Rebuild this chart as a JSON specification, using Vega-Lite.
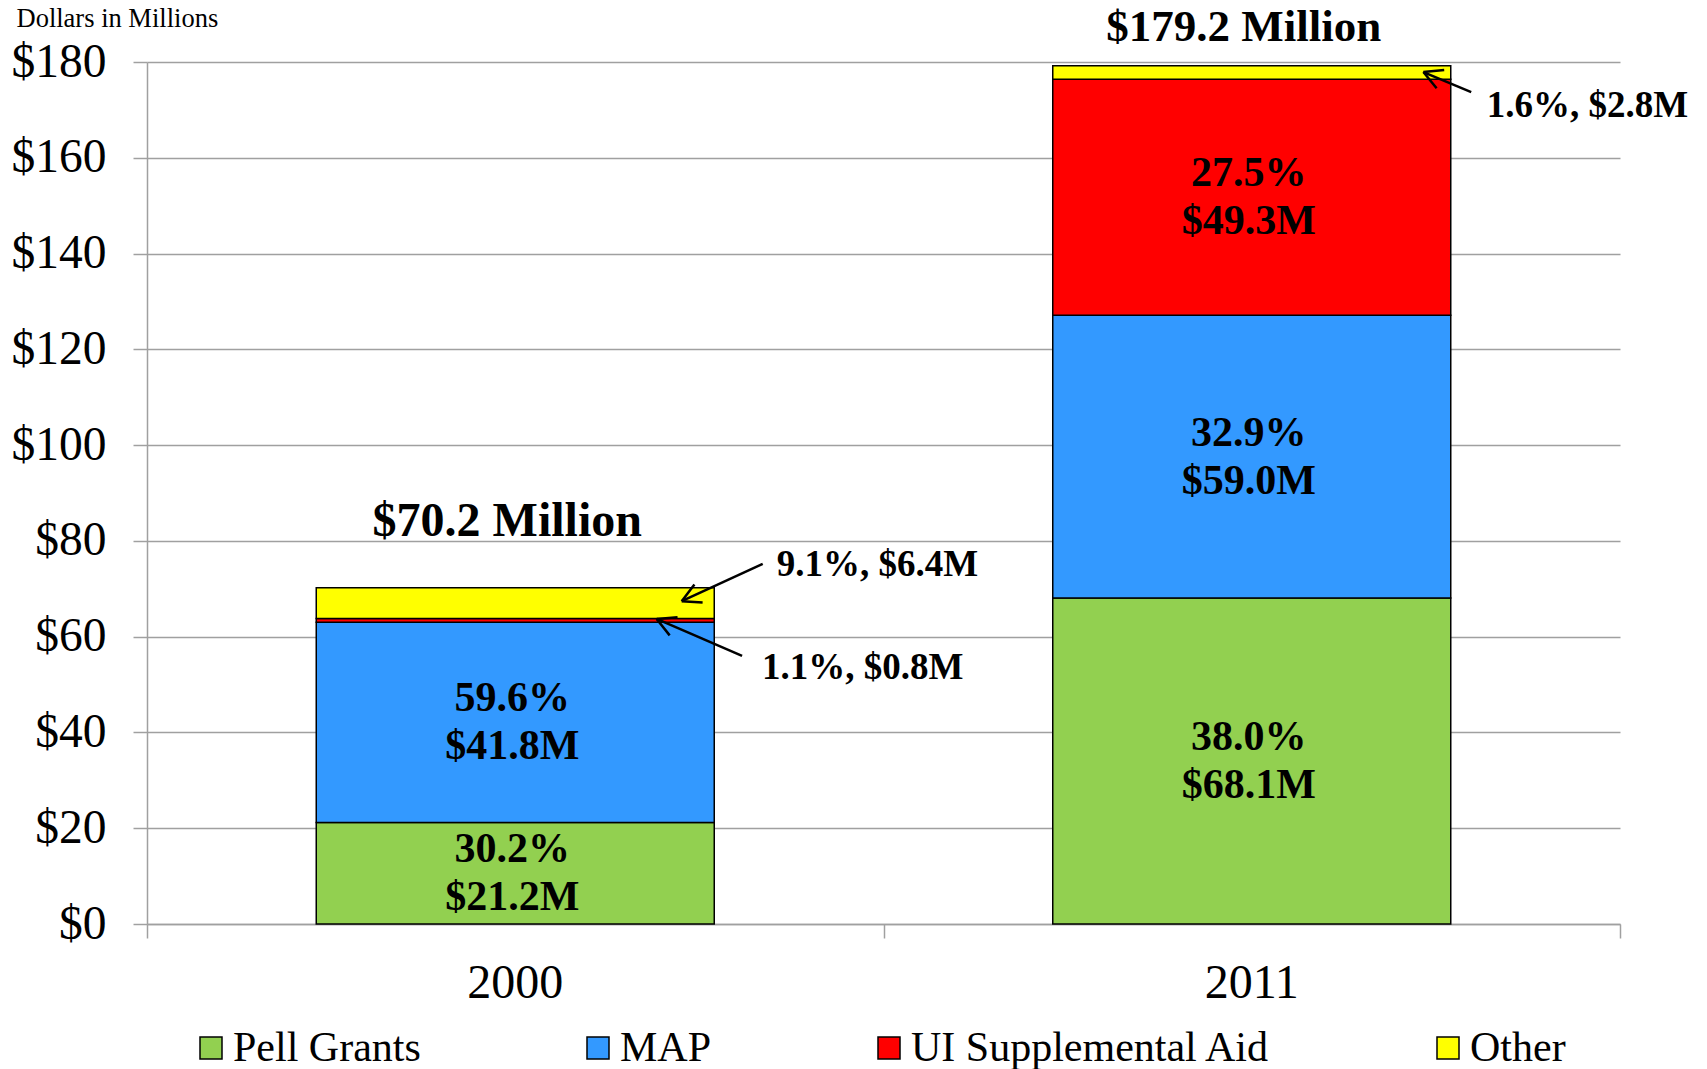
{
  "$schema": "https://vega.github.io/schema/vega-lite/v6.json",
  "width": 1473,
  "height": 862,
  "autosize": {"type": "none"},
  "padding": {"left": 147, "top": 62, "right": 87, "bottom": 145},
  "background": "white",
  "config": {"view": {"stroke": null}, "font": "Liberation Serif"},
  "datasets": {
    "funding": [
      {"year": "2000", "source": "Pell Grants", "amount": 21.2, "pct": 30.2, "rank": 1},
      {"year": "2000", "source": "MAP", "amount": 41.8, "pct": 59.6, "rank": 2},
      {"year": "2000", "source": "UI Supplemental Aid", "amount": 0.8, "pct": 1.1, "rank": 3},
      {"year": "2000", "source": "Other", "amount": 6.4, "pct": 9.1, "rank": 4},
      {"year": "2011", "source": "Pell Grants", "amount": 68.1, "pct": 38.0, "rank": 1},
      {"year": "2011", "source": "MAP", "amount": 59.0, "pct": 32.9, "rank": 2},
      {"year": "2011", "source": "UI Supplemental Aid", "amount": 49.3, "pct": 27.5, "rank": 3},
      {"year": "2011", "source": "Other", "amount": 2.8, "pct": 1.6, "rank": 4}
    ],
    "callouts": [
      {"label": "9.1%, $6.4M", "tx": 0.855, "ty": 72.7, "x0": 0.836, "y0": 75.2, "x1": 0.726, "y1": 67.4, "angle": 155.5},
      {"label": "1.1%, $0.8M", "tx": 0.835, "ty": 51.2, "x0": 0.808, "y0": 56.0, "x1": 0.692, "y1": 63.7, "angle": 203.5},
      {"label": "1.6%, $2.8M", "tx": 1.819, "ty": 168.5, "x0": 1.798, "y0": 173.7, "x1": 1.733, "y1": 177.9, "angle": 202.6}
    ]
  },
  "resolve": {"scale": {"x": "independent"}, "axis": {"x": "independent"}},
  "layer": [
    {
      "data": {"name": "funding"},
      "transform": [
        {"stack": "amount", "groupby": ["year"], "sort": [{"field": "rank", "order": "ascending"}], "as": ["s0", "s1"]}
      ],
      "mark": {"type": "bar", "size": 398, "stroke": "black", "strokeWidth": 1.5},
      "encoding": {
        "x": {
          "field": "year", "type": "nominal",
          "scale": {"domain": ["2000", "2011"], "paddingInner": 0, "paddingOuter": 0},
          "axis": {
            "orient": "bottom", "title": null, "labelAngle": 0, "ticks": false, "tickSize": 0,
            "domain": true, "domainColor": "#a0a0a0", "domainWidth": 1.5, "grid": false,
            "labelFont": "Liberation Serif", "labelFontSize": 48, "labelColor": "black", "labelPadding": 35
          }
        },
        "y": {
          "field": "s0", "type": "quantitative",
          "scale": {"domain": [0, 180], "nice": false, "zero": true},
          "title": "Dollars in Millions",
          "axis": {
            "values": [0, 20, 40, 60, 80, 100, 120, 140, 160, 180], "format": "$.0f",
            "grid": true, "gridColor": "#a0a0a0", "gridWidth": 1.5,
            "tickColor": "#a0a0a0", "tickSize": 14, "tickWidth": 1.5,
            "domainColor": "#a0a0a0", "domainWidth": 1.5,
            "labelFont": "Liberation Serif", "labelFontSize": 47.5, "labelColor": "black", "labelPadding": 27,
            "titleAngle": 0, "titleX": -131, "titleY": -36, "titleAlign": "left", "titleBaseline": "alphabetic",
            "titleFont": "Liberation Serif", "titleFontSize": 26.5, "titleFontWeight": "normal", "titleColor": "black"
          }
        },
        "y2": {"field": "s1"},
        "color": {
          "field": "source", "type": "nominal",
          "scale": {"domain": ["Pell Grants", "MAP", "UI Supplemental Aid", "Other"], "range": ["#92D050", "#3399FF", "#FF0000", "#FFFF00"]},
          "legend": {
            "orient": "none", "legendX": 43, "legendY": 965, "direction": "horizontal", "title": null,
            "symbolType": "square", "symbolSize": 484, "symbolStrokeColor": "black", "symbolStrokeWidth": 1.5, "symbolOpacity": 1,
            "labelFont": "Liberation Serif", "labelFontSize": 42, "labelColor": "black", "labelOffset": 1,
            "columnPadding": 156, "padding": 0, "labelLimit": 0
          }
        }
      }
    },
    {
      "data": {"name": "funding"},
      "transform": [
        {"stack": "amount", "groupby": ["year"], "sort": [{"field": "rank", "order": "ascending"}], "as": ["s0", "s1"]},
        {"filter": "datum.amount > 10"},
        {"calculate": "(datum.s0 + datum.s1) / 2", "as": "mid"},
        {"calculate": "format(datum.pct, '.1f') + '%\\n$' + format(datum.amount, '.1f') + 'M'", "as": "seglabel"}
      ],
      "mark": {"type": "text", "font": "Liberation Serif", "fontSize": 42, "fontWeight": "bold", "lineBreak": "\n", "lineHeight": 48, "baseline": "middle", "align": "center", "dx": -3, "dy": -24, "color": "black"},
      "encoding": {
        "x": {"field": "year", "type": "nominal", "scale": {"domain": ["2000", "2011"], "paddingInner": 0, "paddingOuter": 0}, "axis": null},
        "y": {"field": "mid", "type": "quantitative", "title": "Dollars in Millions"},
        "text": {"field": "seglabel"}
      }
    },
    {
      "data": {"name": "funding"},
      "transform": [
        {"aggregate": [{"op": "sum", "field": "amount", "as": "total"}], "groupby": ["year"]},
        {"filter": "datum.year == '2000'"},
        {"calculate": "'$' + format(datum.total, '.1f') + ' Million'", "as": "ttl"}
      ],
      "mark": {"type": "text", "font": "Liberation Serif", "fontSize": 48, "fontWeight": "bold", "baseline": "alphabetic", "align": "center", "dx": -8, "dy": -52, "color": "black"},
      "encoding": {
        "x": {"field": "year", "type": "nominal", "scale": {"domain": ["2000", "2011"], "paddingInner": 0, "paddingOuter": 0}, "axis": null},
        "y": {"field": "total", "type": "quantitative", "title": "Dollars in Millions"},
        "text": {"field": "ttl"}
      }
    },
    {
      "data": {"name": "funding"},
      "transform": [
        {"aggregate": [{"op": "sum", "field": "amount", "as": "total"}], "groupby": ["year"]},
        {"filter": "datum.year == '2011'"},
        {"calculate": "'$' + format(datum.total, '.1f') + ' Million'", "as": "ttl"}
      ],
      "mark": {"type": "text", "font": "Liberation Serif", "fontSize": 45, "fontWeight": "bold", "baseline": "alphabetic", "align": "center", "dx": -8, "dy": -25, "color": "black"},
      "encoding": {
        "x": {"field": "year", "type": "nominal", "scale": {"domain": ["2000", "2011"], "paddingInner": 0, "paddingOuter": 0}, "axis": null},
        "y": {"field": "total", "type": "quantitative", "title": "Dollars in Millions"},
        "text": {"field": "ttl"}
      }
    },
    {
      "data": {"name": "callouts"},
      "mark": {"type": "rule", "stroke": "black", "strokeWidth": 2.5},
      "encoding": {
        "x": {
          "field": "x0", "type": "quantitative",
          "scale": {"domain": [0, 2], "nice": false, "zero": false},
          "axis": {
            "orient": "bottom", "values": [0, 1, 2], "labels": false, "ticks": true, "tickSize": 14,
            "tickColor": "#a0a0a0", "tickWidth": 1.5, "domain": false, "grid": false, "title": null
          }
        },
        "y": {"field": "y0", "type": "quantitative", "title": "Dollars in Millions"},
        "x2": {"field": "x1"},
        "y2": {"field": "y1"}
      }
    },
    {
      "data": {"name": "callouts"},
      "mark": {"type": "point", "shape": "M0,0L-0.88,-0.47M0,0L-0.88,0.47", "filled": false, "stroke": "black", "strokeWidth": 2.5, "size": 1764, "opacity": 1},
      "encoding": {
        "x": {"field": "x1", "type": "quantitative", "scale": {"domain": [0, 2], "nice": false, "zero": false}, "axis": null},
        "y": {"field": "y1", "type": "quantitative", "title": "Dollars in Millions"},
        "angle": {"field": "angle", "type": "quantitative", "scale": null}
      }
    },
    {
      "data": {"name": "callouts"},
      "mark": {"type": "text", "font": "Liberation Serif", "fontSize": 37, "fontWeight": "bold", "align": "left", "baseline": "alphabetic", "color": "black"},
      "encoding": {
        "x": {"field": "tx", "type": "quantitative", "scale": {"domain": [0, 2], "nice": false, "zero": false}, "axis": null},
        "y": {"field": "ty", "type": "quantitative", "title": "Dollars in Millions"},
        "text": {"field": "label"}
      }
    }
  ]
}
